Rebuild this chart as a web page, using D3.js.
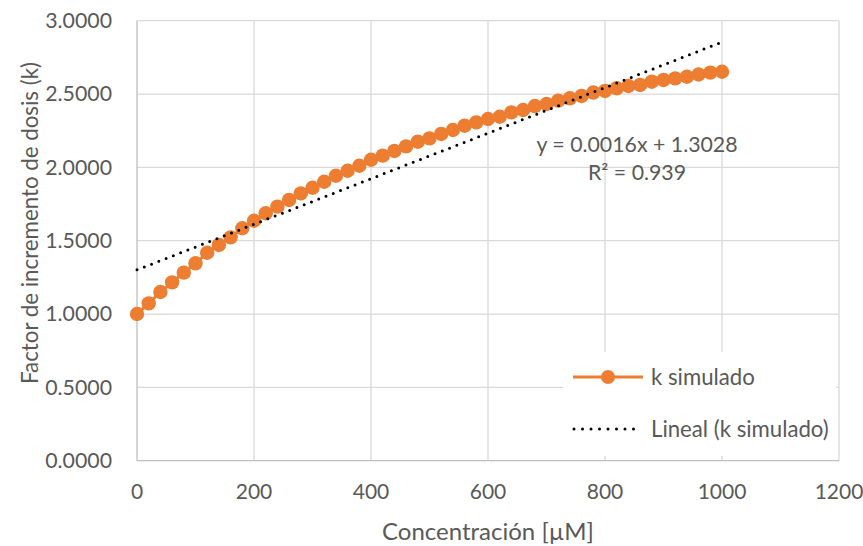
<!DOCTYPE html>
<html>
<head>
<meta charset="utf-8">
<script src="https://cdn.jsdelivr.net/npm/d3@7"></script>
<style>
  body { margin: 0; background: #fff; }
  svg text { font-family: Lato, "Open Sans", sans-serif; fill: #595959; }
</style>
</head>
<body>
<svg id="chart" width="863" height="546"></svg>
<script>
// Concentration (µM) and simulated dose-enhancement factor k
const concentration = [
  0, 20, 40, 60, 80, 100, 120, 140, 160, 180,
  200, 220, 240, 260, 280, 300, 320, 340, 360, 380,
  400, 420, 440, 460, 480, 500, 520, 540, 560, 580,
  600, 620, 640, 660, 680, 700, 720, 740, 760, 780,
  800, 820, 840, 860, 880, 900, 920, 940, 960, 980, 1000
];
const kSimulado = [
  1.000, 1.073, 1.150, 1.216, 1.282, 1.346, 1.418, 1.471, 1.523, 1.585,
  1.636, 1.687, 1.732, 1.778, 1.823, 1.861, 1.902, 1.943, 1.977, 2.011,
  2.052, 2.080, 2.112, 2.143, 2.175, 2.198, 2.228, 2.255, 2.284, 2.307,
  2.330, 2.345, 2.375, 2.391, 2.418, 2.432, 2.455, 2.471, 2.487, 2.510,
  2.521, 2.539, 2.555, 2.562, 2.584, 2.596, 2.607, 2.618, 2.633, 2.646, 2.652
];
const xTicks = [0, 200, 400, 600, 800, 1000, 1200];
const yTicks = [0, 0.5, 1.0, 1.5, 2.0, 2.5, 3.0];
const equationLines = ["y = 0.0016x + 1.3028", "R\u00B2 = 0.939"];
const seriesName = "k simulado";
const trendName = "Lineal (k simulado)";
const xTitle = "Concentración [µM]";
const yTitle = "Factor de incremento de dosis (k)";

const orange = "#ED7D31";
const svg = d3.select("#chart");
const plot = { left: 137, right: 839, top: 20.7, bottom: 460.7 };

const x = d3.scaleLinear().domain([0, 1200]).range([plot.left, plot.right]);
const y = d3.scaleLinear().domain([0, 3]).range([plot.bottom, plot.top]);

// Gridlines
const grid = svg.append("g").attr("stroke", "#d9d9d9").attr("stroke-width", 1.3);
grid.selectAll("line.h").data(yTicks.filter(d => d > 0)).join("line")
  .attr("x1", plot.left).attr("x2", plot.right)
  .attr("y1", d => y(d)).attr("y2", d => y(d));
grid.selectAll("line.v").data(xTicks.filter(d => d > 0)).join("line")
  .attr("x1", d => x(d)).attr("x2", d => x(d))
  .attr("y1", plot.top).attr("y2", plot.bottom);

// Axis lines
svg.append("line").attr("x1", plot.left).attr("x2", plot.left)
  .attr("y1", plot.top).attr("y2", plot.bottom)
  .attr("stroke", "#bfbfbf").attr("stroke-width", 1.3);
svg.append("line").attr("x1", plot.left).attr("x2", plot.right)
  .attr("y1", plot.bottom).attr("y2", plot.bottom)
  .attr("stroke", "#bfbfbf").attr("stroke-width", 1.3);

// Tick labels
const fmt = d3.format(".4f");
svg.selectAll("text.ytick").data(yTicks).join("text")
  .attr("class", "ytick")
  .attr("x", 112).attr("y", d => y(d)).attr("dy", "0.35em")
  .attr("text-anchor", "end").attr("font-size", 21.3)
  .text(d => fmt(d));
svg.selectAll("text.xtick").data(xTicks).join("text")
  .attr("class", "xtick")
  .attr("x", d => x(d)).attr("y", 499)
  .attr("text-anchor", "middle").attr("font-size", 21)
  .text(d => d);

// Axis titles
svg.append("text").attr("x", (plot.left + plot.right) / 2).attr("y", 540)
  .attr("text-anchor", "middle").attr("font-size", 24).text(xTitle);
svg.append("text")
  .attr("transform", "translate(38,223) rotate(-90)")
  .attr("text-anchor", "middle").attr("font-size", 22.3).text(yTitle);

// Least-squares trendline
const pts = concentration.map((c, i) => [c, kSimulado[i]]);
const mx = d3.mean(concentration), my = d3.mean(kSimulado);
const slope = d3.sum(pts, p => (p[0] - mx) * (p[1] - my)) / d3.sum(pts, p => (p[0] - mx) ** 2);
const intercept = my - slope * mx;
const xExt = d3.extent(concentration);

// Series line and markers
svg.append("path").datum(pts)
  .attr("fill", "none").attr("stroke", orange).attr("stroke-width", 3)
  .attr("d", d3.line().x(d => x(d[0])).y(d => y(d[1])));
svg.selectAll("circle.pt").data(pts).join("circle")
  .attr("class", "pt")
  .attr("cx", d => x(d[0])).attr("cy", d => y(d[1])).attr("r", 7.2)
  .attr("fill", orange);

svg.append("line")
  .attr("x1", x(xExt[0])).attr("y1", y(intercept + slope * xExt[0]))
  .attr("x2", x(xExt[1])).attr("y2", y(intercept + slope * xExt[1]))
  .attr("stroke", "#000").attr("stroke-width", 3)
  .attr("stroke-linecap", "round").attr("stroke-dasharray", "0 7.8");

// Trendline equation
svg.selectAll("text.eq").data(equationLines).join("text")
  .attr("class", "eq")
  .attr("x", 637).attr("y", (d, i) => 152 + i * 28)
  .attr("text-anchor", "middle").attr("font-size", 21.3)
  .text(d => d);

// Legend
const lg = svg.append("g");
lg.append("rect").attr("x", 563).attr("y", 352).attr("width", 273).attr("height", 104)
  .attr("fill", "#fff");
lg.append("line").attr("x1", 573).attr("x2", 643).attr("y1", 377).attr("y2", 377)
  .attr("stroke", orange).attr("stroke-width", 3);
lg.append("circle").attr("cx", 608).attr("cy", 377).attr("r", 7).attr("fill", orange);
lg.append("text").attr("x", 651).attr("y", 377).attr("dy", "0.35em")
  .attr("font-size", 22.2).text(seriesName);
lg.append("line").attr("x1", 574).attr("x2", 642).attr("y1", 429).attr("y2", 429)
  .attr("stroke", "#000").attr("stroke-width", 3)
  .attr("stroke-linecap", "round").attr("stroke-dasharray", "0 8.5");
lg.append("text").attr("x", 651).attr("y", 429).attr("dy", "0.35em")
  .attr("font-size", 22.2).text(trendName);
</script>
</body>
</html>
